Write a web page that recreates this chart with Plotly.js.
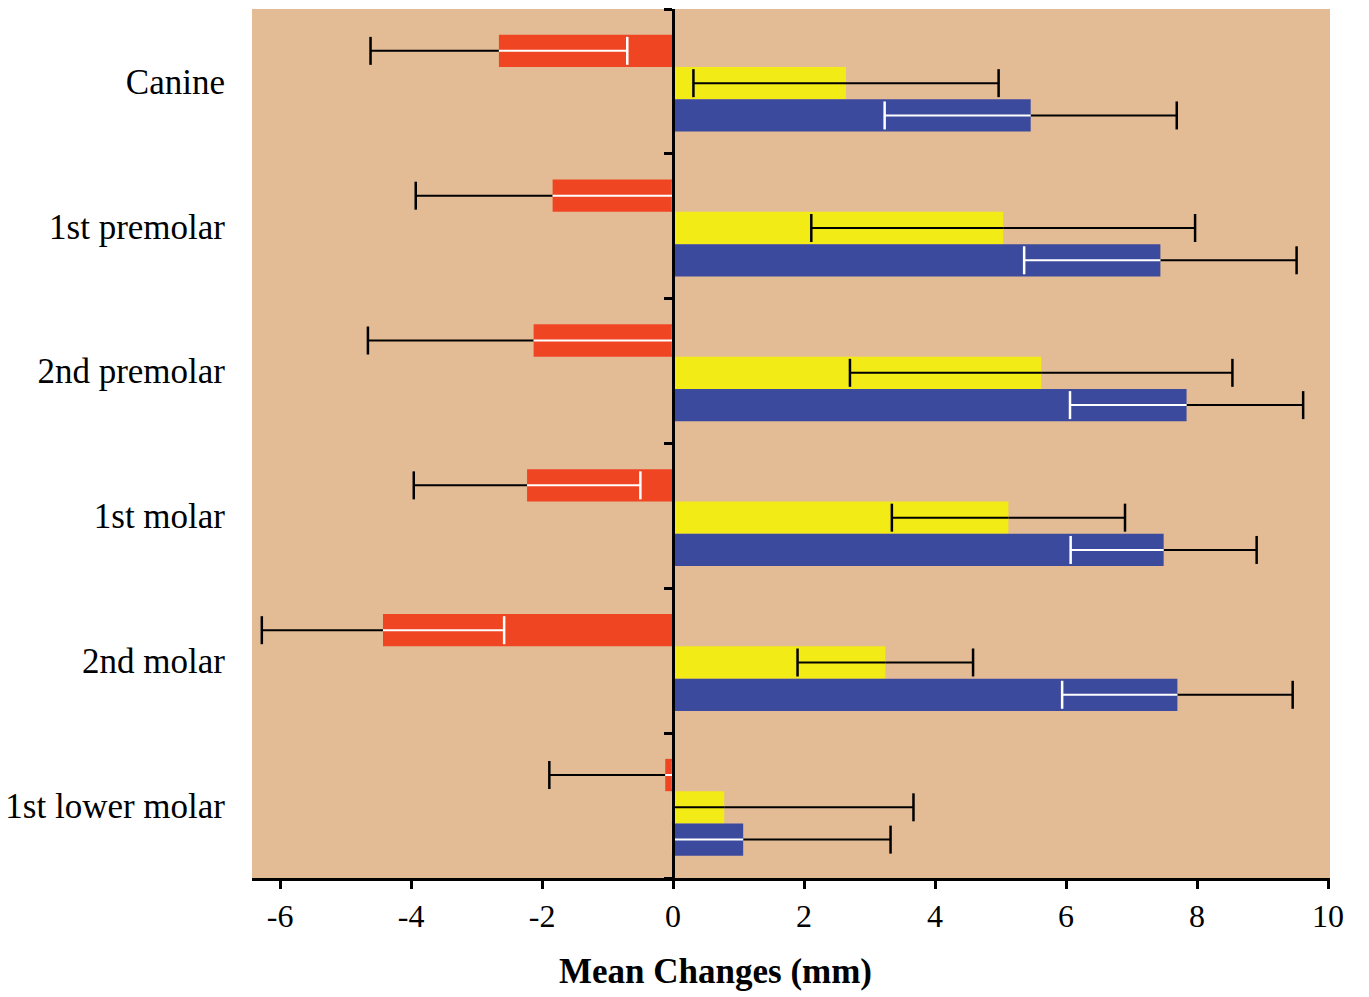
<!DOCTYPE html>
<html>
<head>
<meta charset="utf-8">
<script src="https://cdn.plot.ly/plotly-3.0.1.min.js"></script>
<style>html,body{margin:0;padding:0;background:#fff;}#chart{width:1369px;height:997px;}</style>
</head>
<body>
<div id="chart"></div>
<script>
// ---- data ----
const categories = ['Canine', '1st premolar', '2nd premolar', '1st molar', '2nd molar', '1st lower molar'];
const redMean    = [-2.66, -1.84, -2.13, -2.23, -4.43, -0.12];
const redErr     = [ 1.96,  2.09,  2.53,  1.73,  1.85,  1.77];
const yellowMean = [ 2.64,  5.04,  5.62,  5.12,  3.24,  0.78];
const yellowErr  = [ 2.33,  2.93,  2.92,  1.78,  1.34,  2.89];
const blueMean   = [ 5.46,  7.44,  7.84,  7.49,  7.70,  1.07];
const blueErr    = [ 2.23,  2.08,  1.78,  1.42,  1.76,  2.25];
const xTicks     = [-6, -4, -2, 0, 2, 4, 6, 8, 10];
const xTitle     = 'Mean Changes (mm)';

// ---- styling ----
const XRANGE = [-6.43, 10.03];
const BAR_W = 0.223;
const GROUP_SHIFT = 0.012;
const FONT = 'Liberation Serif, Times New Roman, serif';
const series = [
  {mean: redMean,    err: redErr,    color: '#F04523', inner: '#FFFFFF'},
  {mean: yellowMean, err: yellowErr, color: '#F2EB16', inner: '#000000'},
  {mean: blueMean,   err: blueErr,   color: '#3C4A9E', inner: '#FFFFFF'}
];

const traces = [];
const lineTraces = [];
const capTraces = [];

series.forEach((s, j) => {
  const ys = categories.map((c, i) => i + (j - 1) * BAR_W + GROUP_SHIFT);
  traces.push({
    type: 'bar', orientation: 'h', x: s.mean, y: ys, width: BAR_W,
    marker: {color: s.color, line: {width: 0}}, hoverinfo: 'skip', showlegend: false,
    xaxis: 'x', yaxis: 'y'
  });
  const oX = [], oY = [], iX = [], iY = [];
  const ocX = [], ocY = [];
  const icX = [], icY = [], icC = [];
  s.mean.forEach((m, i) => {
    const sign = m < 0 ? -1 : 1;
    const outerEnd = m + sign * s.err[i];
    let innerEnd = m - sign * s.err[i];
    let clipped = false;
    if (sign < 0 && innerEnd > 0) { innerEnd = 0; clipped = true; }
    if (sign > 0 && innerEnd < 0) { innerEnd = 0; clipped = true; }
    oX.push(m, outerEnd, null); oY.push(ys[i], ys[i], null);
    iX.push(m, innerEnd, null); iY.push(ys[i], ys[i], null);
    ocX.push(outerEnd); ocY.push(ys[i]);
    icX.push(innerEnd); icY.push(ys[i]); icC.push(clipped ? '#FFFFFF' : s.inner);
  });
  lineTraces.push({type: 'scatter', mode: 'lines', x: oX, y: oY, line: {color: '#000', width: 2},
    hoverinfo: 'skip', showlegend: false, xaxis: 'x', yaxis: 'y2'});
  lineTraces.push({type: 'scatter', mode: 'lines', x: iX, y: iY, line: {color: s.inner, width: 2},
    hoverinfo: 'skip', showlegend: false, xaxis: 'x', yaxis: 'y2'});
  capTraces.push({type: 'scatter', mode: 'markers', x: ocX, y: ocY,
    marker: {symbol: 'line-ns', size: 20, color: '#000', line: {color: '#000', width: 2.5}},
    hoverinfo: 'skip', showlegend: false, xaxis: 'x', yaxis: 'y2'});
  capTraces.push({type: 'scatter', mode: 'markers', x: icX, y: icY,
    marker: {symbol: 'line-ns', size: 20, color: icC, line: {color: icC, width: 2.5}},
    hoverinfo: 'skip', showlegend: false, xaxis: 'x', yaxis: 'y2'});
});

const yRange = [categories.length - 0.5, -0.5];
const boundaries = [];
for (let k = 0; k <= categories.length; k++) boundaries.push(k - 0.5);
const zeroPos = (0 - XRANGE[0]) / (XRANGE[1] - XRANGE[0]);

const layout = {
  width: 1369, height: 997,
  margin: {l: 252, r: 39, t: 9, b: 119},
  paper_bgcolor: '#FFFFFF',
  plot_bgcolor: '#E3BC96',
  barmode: 'overlay',
  showlegend: false,
  xaxis: {
    range: XRANGE, tickvals: xTicks, ticktext: xTicks.map(String),
    showgrid: false, zeroline: false,
    showline: true, linecolor: '#000', linewidth: 3,
    ticks: 'outside', ticklen: 8, tickwidth: 3, tickcolor: '#000',
    tickfont: {family: FONT, size: 32, color: '#000'},
    fixedrange: true
  },
  yaxis: {
    range: yRange, tickvals: categories.map((c, i) => i), ticktext: categories,
    showgrid: false, zeroline: false, showline: false, ticks: '',
    ticklabelstandoff: 26,
    tickfont: {family: FONT, size: 35, color: '#000'},
    fixedrange: true
  },
  yaxis2: {
    range: yRange, overlaying: 'y', anchor: 'free', position: zeroPos, side: 'left',
    tickvals: boundaries, showticklabels: false,
    showgrid: false, zeroline: false,
    showline: true, linecolor: '#000', linewidth: 3,
    ticks: 'outside', ticklen: 8, tickwidth: 3, tickcolor: '#000',
    fixedrange: true
  },
  annotations: [{
    text: '<b>' + xTitle + '</b>', xref: 'paper', yref: 'paper',
    x: 0.4295, y: -0.108, xanchor: 'center', yanchor: 'middle', showarrow: false,
    font: {family: FONT, size: 35, color: '#000'}
  }]
};

Plotly.newPlot('chart', traces.concat(lineTraces, capTraces), layout, {displayModeBar: false, staticPlot: true});
</script>
</body>
</html>
